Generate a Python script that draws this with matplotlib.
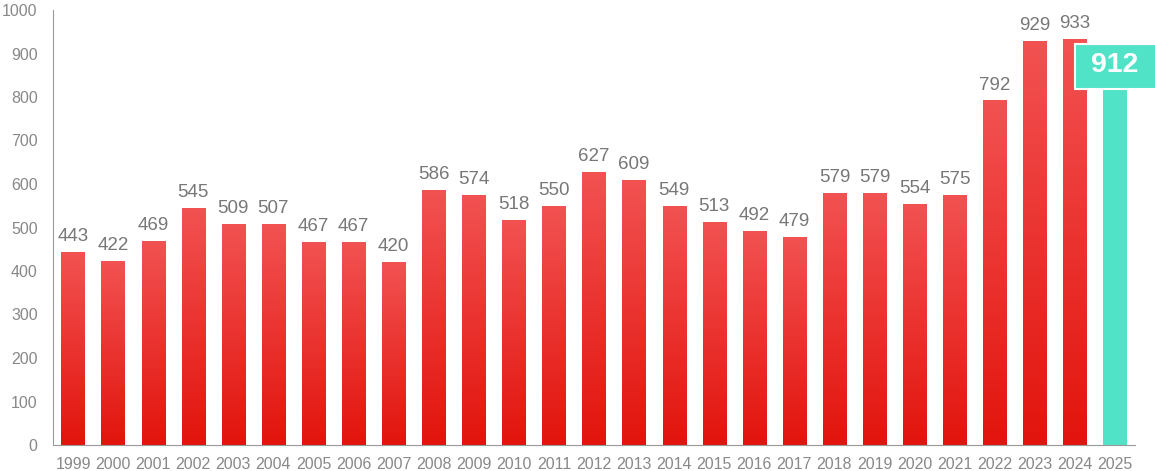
import numpy as np
import matplotlib
matplotlib.use("Agg")
import matplotlib.pyplot as plt
from matplotlib.colors import LinearSegmentedColormap
from matplotlib.patches import Rectangle

plt.rcParams['font.family'] = ['Liberation Sans', 'DejaVu Sans']

years = [str(y) for y in range(1999, 2026)]
values = [443, 422, 469, 545, 509, 507, 467, 467, 420, 586, 574, 518, 550,
          627, 609, 549, 513, 492, 479, 579, 579, 554, 575, 792, 929, 933, 912]

fig = plt.figure(figsize=(11.55, 4.71), dpi=100)
ax = fig.add_axes([53 / 1155, 26 / 471, 1082 / 1155, 435 / 471])

x = np.arange(len(years))
w = 0.58
grad = LinearSegmentedColormap.from_list("rd", ["#e2140d", "#f25252"])
g = np.linspace(0, 1, 256).reshape(-1, 1)

for i, v in enumerate(values[:-1]):
    b = ax.bar(x[i], v, width=w, color="none", edgecolor="none")[0]
    im = ax.imshow(g, cmap=grad, origin="lower", aspect="auto",
                   extent=[x[i] - w / 2, x[i] + w / 2, 0, v], zorder=2)
    im.set_clip_path(b)
    ax.text(x[i], v + 16, str(v), ha="center", va="bottom",
            fontsize=13.5, color="#777777")

# highlighted last year
teal = "#50e3c7"
ax.bar(x[-1], values[-1], width=w, color=teal, zorder=2)
ax.add_patch(Rectangle((x[-1] - 1.0, 819), 2.2, 103, facecolor=teal,
                       edgecolor="white", lw=1.5, zorder=5, clip_on=False))
ax.text(x[-1], 873, str(values[-1]), ha="center", va="center",
        fontsize=20.5, fontweight="bold", color="white", zorder=6)

ax.set_xlim(-0.5, len(years) - 0.5)
ax.set_ylim(0, 1000)
ax.set_xticks(x)
ax.set_xticklabels(years)
ax.set_yticks(range(0, 1001, 100))
ax.tick_params(length=0, labelsize=11.5, labelcolor="#888888")
ax.tick_params(axis="y", pad=11)
ax.tick_params(axis="x", pad=8.5)
for s in ["top", "right"]:
    ax.spines[s].set_visible(False)
for s in ["left", "bottom"]:
    ax.spines[s].set_color("#999999")

fig.savefig("out.png", dpi=100)
